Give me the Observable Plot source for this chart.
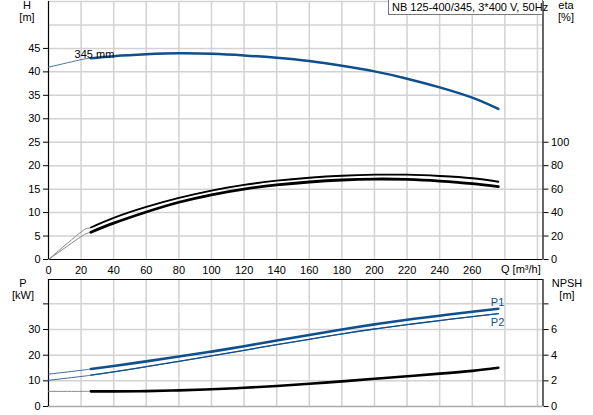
<!DOCTYPE html>
<html><head><meta charset="utf-8">
<script src="https://cdn.jsdelivr.net/npm/d3@7"></script>
<script src="https://cdn.jsdelivr.net/npm/@observablehq/plot@0.6"></script>
<style>
body{margin:0;background:#fff;}
#wrap{position:relative;width:593px;height:415px;overflow:hidden;font-family:"Liberation Sans",Arial,sans-serif;font-size:11px;color:#000;background:#fff;}
#wrap svg{position:absolute;left:0;}
.lbl{position:absolute;text-align:center;line-height:12px;transform:translateX(-50%);white-space:nowrap;}
#legend{position:absolute;left:388px;top:-1px;width:150px;height:14px;border:1px solid #777;background:#fff;line-height:15px;padding-left:3px;white-space:nowrap;}
</style>
</head><body><div id="wrap"></div>
<script>
// ---- data ----
const flow     = [0, 20, 26, 40, 60, 80, 100, 120, 140, 160, 180, 200, 220, 240, 260, 276];
const head     = [41.0, 42.6, 42.9, 43.35, 43.75, 43.95, 43.85, 43.5, 43.0, 42.3, 41.3, 40.1, 38.55, 36.7, 34.5, 32.1];
const etaUpper = [0, 23.5, 27.3, 35.5, 44.8, 52.5, 58.8, 63.6, 67.2, 69.7, 71.4, 72.3, 72.3, 71.2, 69.3, 66.3];
const etaLower = [0, 19.5, 23.3, 31.0, 40.5, 48.8, 55.2, 60.0, 63.6, 66.1, 67.8, 68.6, 68.3, 66.9, 64.7, 62.1];
const powerP1  = [12.6, 14.1, 14.6, 15.8, 17.6, 19.5, 21.4, 23.5, 25.7, 27.9, 30.0, 32.0, 33.8, 35.4, 36.9, 38.1];
const powerP2  = [10.2, 11.7, 12.2, 13.5, 15.5, 17.6, 19.7, 21.9, 24.1, 26.2, 28.3, 30.2, 31.9, 33.5, 35.0, 36.2];
const npsh     = [1.18, 1.18, 1.18, 1.18, 1.2, 1.26, 1.34, 1.46, 1.6, 1.77, 1.96, 2.16, 2.36, 2.56, 2.78, 3.02];
const duty = 26; // start of the bold (allowed) operating range

const qTicks    = [0, 20, 40, 60, 80, 100, 120, 140, 160, 180, 200, 220, 240, 260];
const qGrid     = [20, 40, 60, 80, 100, 120, 140, 160, 180, 200, 220, 240, 260, 280, 300];
const hTicks    = [0, 5, 10, 15, 20, 25, 30, 35, 40, 45];
const hGrid     = [5, 10, 15, 20, 25, 30, 35, 40, 45, 50, 55];
const etaTicks  = [0, 20, 40, 60, 80, 100];
const pTicks    = [0, 10, 20, 30, 40];
const pLabeled  = [0, 10, 20, 30];
const npshTicks = [0, 2, 4, 6, 8];
const npshLabeled = [0, 2, 4, 6];

const legendText = "NB 125-400/345, 3*400 V, 50Hz";
const curveName = "345 mm";

// ---- derived tables ----
const rows = flow.map((q, i) => ({q, h: head[i], e1: etaUpper[i] / 4, e2: etaLower[i] / 4,
  p1: powerP1[i], p2: powerP2[i], n: npsh[i] * 5}));
const bold = rows.filter(d => d.q >= duty);

const qMax = 303.4;
const blue = "#0e4f8c";
const gridStyle = {stroke: "#d2d2d2", strokeOpacity: 1, strokeWidth: 1.5};
const font = {fontFamily: "'Liberation Sans', Arial, sans-serif", fontSize: "11px", background: "transparent", color: "#000", overflow: "visible"};
const curve = "natural";

const topChart = Plot.plot({
  width: 593, height: 274,
  marginLeft: 48, marginRight: 50.5, marginTop: 1, marginBottom: 15,
  style: font,
  x: {domain: [0, qMax], axis: null},
  y: {domain: [0, 55], axis: null},
  marks: [
    Plot.gridX(qGrid, gridStyle),
    Plot.gridY(hGrid, gridStyle),
    Plot.ruleX([0, qMax], {stroke: "#000", strokeWidth: 1.2}),
    Plot.ruleY([0], {stroke: "#000", strokeWidth: 1.2}),
    Plot.line(rows, {x: "q", y: "h", stroke: "#4a76a4", strokeWidth: 1, curve}),
    Plot.line(bold, {x: "q", y: "h", stroke: blue, strokeWidth: 2.5, curve}),
    Plot.line(rows, {x: "q", y: "e1", stroke: "#888", strokeWidth: 1, curve}),
    Plot.line(rows, {x: "q", y: "e2", stroke: "#888", strokeWidth: 1, curve}),
    Plot.line(bold, {x: "q", y: "e1", stroke: "#000", strokeWidth: 1.8, curve}),
    Plot.line(bold, {x: "q", y: "e2", stroke: "#000", strokeWidth: 2.8, curve}),
    Plot.text([curveName], {x: 16, y: 43.8, text: d => d, textAnchor: "start", fill: "#000", fontSize: 11}),
    Plot.axisY(hTicks, {anchor: "left", tickSize: 5, tickPadding: 3, stroke: "#000", fill: "#000", label: null}),
    Plot.axisY(etaTicks.map(e => e / 4), {anchor: "right", tickSize: 5, tickPadding: 3, tickFormat: d => d * 4, stroke: "#000", fill: "#000", label: null}),
    Plot.axisX(qTicks, {anchor: "bottom", tickSize: 0, tickPadding: 7, fill: "#000", label: null})
  ]
});

const bottomChart = Plot.plot({
  width: 593, height: 141,
  marginLeft: 48, marginRight: 50.5, marginTop: 5, marginBottom: 9,
  style: font,
  x: {domain: [0, qMax], axis: null},
  y: {domain: [0, 49.5], axis: null},
  marks: [
    Plot.gridX(qGrid, gridStyle),
    Plot.gridY([10, 20, 30, 40], gridStyle),
    Plot.ruleY([0], {stroke: "#aaa", strokeWidth: 1.5}),
    Plot.ruleY([49.5], {stroke: "#000", strokeWidth: 1.2}),
    Plot.ruleX([0, qMax], {stroke: "#000", strokeWidth: 1.2}),
    Plot.line(rows, {x: "q", y: "p1", stroke: "#3c6a9a", strokeWidth: 1, curve}),
    Plot.line(rows, {x: "q", y: "p2", stroke: "#3c6a9a", strokeWidth: 1, curve}),
    Plot.line(rows, {x: "q", y: "n", stroke: "#888", strokeWidth: 1, curve}),
    Plot.line(bold, {x: "q", y: "p1", stroke: blue, strokeWidth: 2.6, curve}),
    Plot.line(bold, {x: "q", y: "p2", stroke: blue, strokeWidth: 1.3, curve}),
    Plot.line(bold, {x: "q", y: "n", stroke: "#000", strokeWidth: 2.6, curve}),
    Plot.text(["P1", "P2"], {x: [275.5, 275.5], y: [40.6, 32.9], text: d => d, fill: blue, fontSize: 11}),
    Plot.axisY(pTicks, {anchor: "left", tickSize: 5, tickPadding: 3, tickFormat: d => pLabeled.includes(d) ? d : "", stroke: "#000", fill: "#000", label: null}),
    Plot.axisY(npshTicks.map(n => n * 5), {anchor: "right", tickSize: 5, tickPadding: 3, tickFormat: d => npshLabeled.includes(d / 5) ? d / 5 : "", stroke: "#000", fill: "#000", label: null})
  ]
});

const wrap = document.getElementById("wrap");
topChart.style.top = "0px";
bottomChart.style.top = "274px";
wrap.appendChild(topChart);
wrap.appendChild(bottomChart);

function label(html, x, y) {
  const d = document.createElement("div");
  d.className = "lbl";
  d.innerHTML = html;
  d.style.left = x + "px";
  d.style.top = y + "px";
  wrap.appendChild(d);
}
label("H<br>[m]", 27, -1);
label("eta<br>[%]", 566, -1);
label("P<br>[kW]", 23, 277);
label("NPSH<br>[m]", 567, 277);
const qLab = document.createElement("div");
qLab.className = "lbl";
qLab.style.transform = "none";
qLab.style.left = "501px"; qLab.style.top = "263px";
qLab.innerHTML = "Q [m³/h]";
wrap.appendChild(qLab);
const lg = document.createElement("div");
lg.id = "legend";
lg.textContent = legendText;
wrap.appendChild(lg);
</script>
</body></html>
